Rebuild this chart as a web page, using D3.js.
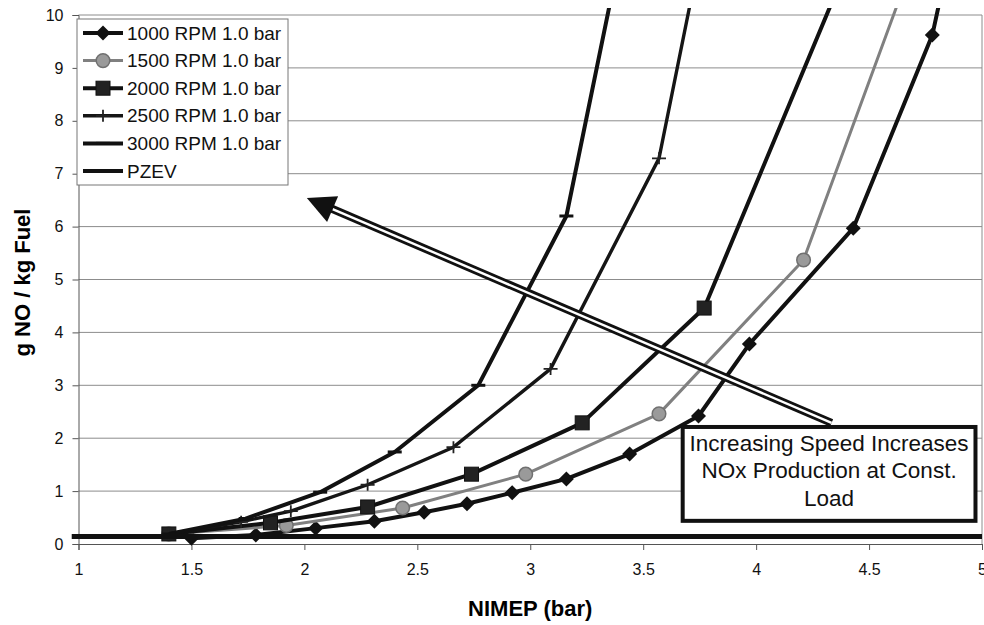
<!DOCTYPE html>
<html>
<head>
<meta charset="utf-8">
<script src="https://cdn.jsdelivr.net/npm/d3@7"></script>
<style>
  body { margin: 0; background: #fff; }
  svg { display: block; font-family: 'Liberation Sans', Arial, sans-serif; }
</style>
</head>
<body>
<div id="chart"></div>
<script>
// NOx vs load, one series per engine speed
const rpm1000 = [[1.50, 0.11], [1.785, 0.17], [2.05, 0.30], [2.31, 0.43], [2.53, 0.60], [2.72, 0.76], [2.92, 0.97],
	[3.16, 1.23], [3.44, 1.70], [3.745, 2.42], [3.97, 3.78], [4.43, 5.97], [4.78, 9.62], [4.85, 11.0]];
const rpm1500 = [[1.40, 0.19], [1.92, 0.35], [2.435, 0.68], [2.98, 1.32], [3.57, 2.46], [4.21, 5.37], [4.66, 10.6]];
const rpm2000 = [[1.40, 0.19], [1.85, 0.40], [2.28, 0.70], [2.74, 1.32], [3.23, 2.29], [3.77, 4.46], [4.40, 10.9]];
const rpm2500 = [[1.40, 0.19], [1.72, 0.42], [1.94, 0.62], [2.28, 1.12], [2.66, 1.83], [3.09, 3.31], [3.57, 7.29], [3.75, 11.1]];
const rpm3000 = [[1.40, 0.19], [1.74, 0.48], [2.07, 0.98], [2.40, 1.74], [2.77, 3.0], [3.16, 6.2], [3.40, 11.2]];
const pzev = [[0.97, 0.14], [5, 0.14]];

const seriesNames = ['1000 RPM 1.0 bar', '1500 RPM 1.0 bar', '2000 RPM 1.0 bar', '2500 RPM 1.0 bar', '3000 RPM 1.0 bar', 'PZEV'];
const xTicks = [1, 1.5, 2, 2.5, 3, 3.5, 4, 4.5, 5];
const yTicks = [0, 1, 2, 3, 4, 5, 6, 7, 8, 9, 10];
const noteLines = ['Increasing Speed Increases', 'NOx Production at Const.', 'Load'];

const series = [
	{ name: seriesNames[0], data: rpm1000, color: '#111', width: 4, marker: 'diamond' },
	{ name: seriesNames[1], data: rpm1500, color: '#808080', width: 3, marker: 'circle' },
	{ name: seriesNames[2], data: rpm2000, color: '#111', width: 4, marker: 'square' },
	{ name: seriesNames[3], data: rpm2500, color: '#151515', width: 3.4, marker: 'plus' },
	{ name: seriesNames[4], data: rpm3000, color: '#111', width: 4, marker: 'dash' },
	{ name: seriesNames[5], data: pzev, color: '#111', width: 5, marker: 'none' }
];

const width = 984;
const height = 625;
const marginTop = 15;
const marginRight = 2;
const marginBottom = 81;
const marginLeft = 78.5;

const svg = d3.select('#chart')
	.append('svg')
	.attr('width', width)
	.attr('height', height)
	.attr('viewBox', [0, 0, width, height]);

const x = d3.scaleLinear().domain([1, 5]).range([marginLeft, width - marginRight]);
const y = d3.scaleLinear().domain([0, 10]).range([height - marginBottom, marginTop]);

// gridlines
svg.append('g')
	.selectAll('line')
	.data(yTicks.filter((d) => d > 0))
	.enter()
	.append('line')
	.attr('x1', x(1))
	.attr('x2', x(5))
	.attr('y1', (d) => y(d))
	.attr('y2', (d) => y(d))
	.attr('stroke', '#8c8c8c')
	.attr('stroke-width', 1);

// right border of plot area
svg.append('line')
	.attr('x1', x(5)).attr('x2', x(5))
	.attr('y1', y(10)).attr('y2', y(0))
	.attr('stroke', '#8c8c8c');

// axes
const xAxis = svg.append('g')
	.attr('transform', 'translate(0,' + y(0) + ')')
	.call(d3.axisBottom(x).tickValues(xTicks).tickSize(6).tickPadding(14).tickFormat(d3.format('')));
const yAxis = svg.append('g')
	.attr('transform', 'translate(' + x(1) + ',0)')
	.call(d3.axisLeft(y).tickValues(yTicks).tickSize(6).tickPadding(9));

[xAxis, yAxis].forEach((a) => {
	a.select('.domain').attr('stroke', '#555');
	a.selectAll('.tick line').attr('stroke', '#555');
	a.selectAll('.tick text')
		.attr('fill', '#111')
		.style('font-size', '16px')
		.style('font-family', "'Liberation Sans', Arial, sans-serif");
});

// axis titles
svg.append('text')
	.attr('x', (x(1) + x(5)) / 2)
	.attr('y', 616)
	.attr('text-anchor', 'middle')
	.style('font-size', '22px')
	.style('font-weight', 'bold')
	.text('NIMEP (bar)');

svg.append('text')
	.attr('transform', 'translate(' + [30, (y(0) + y(10)) / 2 + 3] + ') rotate(-90)')
	.attr('text-anchor', 'middle')
	.style('font-size', '22px')
	.style('font-weight', 'bold')
	.text('g NO / kg Fuel');

// clip: lines run a little past the top of the plot
svg.append('clipPath')
	.attr('id', 'plotclip')
	.append('rect')
	.attr('x', x(1) - 8)
	.attr('y', y(10) - 7)
	.attr('width', x(5) - x(1) + 10)
	.attr('height', y(0) - y(10) + 10);

const plot = svg.append('g').attr('clip-path', 'url(#plotclip)');

const line = d3.line().x((d) => x(d[0])).y((d) => y(d[1]));

function drawMarker(g, type, color) {
	if (type === 'diamond') {
		g.append('path').attr('d', 'M0,-7.5L7.5,0L0,7.5L-7.5,0Z').attr('fill', '#111');
	} else if (type === 'circle') {
		g.append('circle').attr('r', 6.8).attr('fill', '#9a9a9a').attr('stroke', '#707070').attr('stroke-width', 1.5);
	} else if (type === 'square') {
		g.append('rect').attr('x', -7).attr('y', -7).attr('width', 14).attr('height', 14)
			.attr('fill', '#222').attr('stroke', '#111');
	} else if (type === 'plus') {
		g.append('path').attr('d', 'M-7,0H7M0,-6V6').attr('stroke', '#222').attr('stroke-width', 1.8);
	} else if (type === 'dash') {
		g.append('path').attr('d', 'M-7,0H7').attr('stroke', '#111').attr('stroke-width', 3);
	}
}

series.forEach((s) => {
	plot.append('path')
		.datum(s.data)
		.attr('fill', 'none')
		.attr('stroke', s.color)
		.attr('stroke-width', s.width)
		.attr('stroke-linejoin', 'round')
		.attr('d', line);

	if (s.marker !== 'none') {
		plot.append('g')
			.selectAll('g')
			.data(s.data)
			.enter()
			.append('g')
			.attr('transform', (d) => 'translate(' + [x(d[0]), y(d[1])] + ')')
			.each(function () {
				drawMarker(d3.select(this), s.marker, s.color);
			});
	}
});

// legend
const legend = svg.append('g').attr('transform', 'translate(77,19)');
legend.append('rect')
	.attr('width', 211)
	.attr('height', 166)
	.attr('fill', '#fff')
	.attr('stroke', '#777')
	.attr('stroke-width', 1);

const item = legend.selectAll('g.item')
	.data(series)
	.enter()
	.append('g')
	.attr('class', 'item')
	.attr('transform', (d, i) => 'translate(0,' + (14 + i * 27.6) + ')');

item.append('line')
	.attr('x1', 6).attr('x2', 46)
	.attr('stroke', (d) => d.color)
	.attr('stroke-width', (d) => Math.min(d.width, 4));
item.append('g')
	.attr('transform', 'translate(26,0)')
	.each(function (d) {
		drawMarker(d3.select(this), d.marker, d.color);
	});
item.append('text')
	.attr('x', 50)
	.attr('dy', '0.35em')
	.style('font-size', '19px')
	.attr('fill', '#111')
	.text((d) => d.name);

// arrow: double-outlined shaft with a solid head
const arrowTail = [4.334, 2.29];
const arrowTip = [2.011, 6.54];
const tx = x(arrowTail[0]), ty = y(arrowTail[1]);
const hx = x(arrowTip[0]), hy = y(arrowTip[1]);
const len = Math.hypot(hx - tx, hy - ty);
const ux = (hx - tx) / len, uy = (hy - ty) / len;
const headLen = 28, headHalf = 14;
const bx = hx - ux * headLen, by = hy - uy * headLen;

svg.append('line')
	.attr('x1', tx).attr('y1', ty).attr('x2', bx + ux * 2).attr('y2', by + uy * 2)
	.attr('stroke', '#111').attr('stroke-width', 8);
svg.append('line')
	.attr('x1', tx).attr('y1', ty).attr('x2', bx).attr('y2', by)
	.attr('stroke', '#fff').attr('stroke-width', 2.4);
svg.append('path')
	.attr('d', 'M' + [hx, hy] + 'L' + [bx - uy * headHalf, by + ux * headHalf] + 'L' + [bx + uy * headHalf, by - ux * headHalf] + 'Z')
	.attr('fill', '#111');

// note box
const noteBox = { x0: 3.666, x1: 4.98, y0: 2.25, y1: 0.40 };
svg.append('rect')
	.attr('x', x(noteBox.x0) + 2)
	.attr('y', y(noteBox.y0) + 2)
	.attr('width', x(noteBox.x1) - x(noteBox.x0) - 4)
	.attr('height', y(noteBox.y1) - y(noteBox.y0) - 4)
	.attr('fill', '#fff')
	.attr('stroke', '#111')
	.attr('stroke-width', 4);

svg.append('g')
	.selectAll('text')
	.data(noteLines)
	.enter()
	.append('text')
	.attr('x', (x(noteBox.x0) + x(noteBox.x1)) / 2)
	.attr('y', (d, i) => y(noteBox.y0) + 26 + i * 27.5)
	.attr('text-anchor', 'middle')
	.style('font-size', '22.5px')
	.attr('fill', '#111')
	.text((d) => d);
</script>
</body>
</html>
